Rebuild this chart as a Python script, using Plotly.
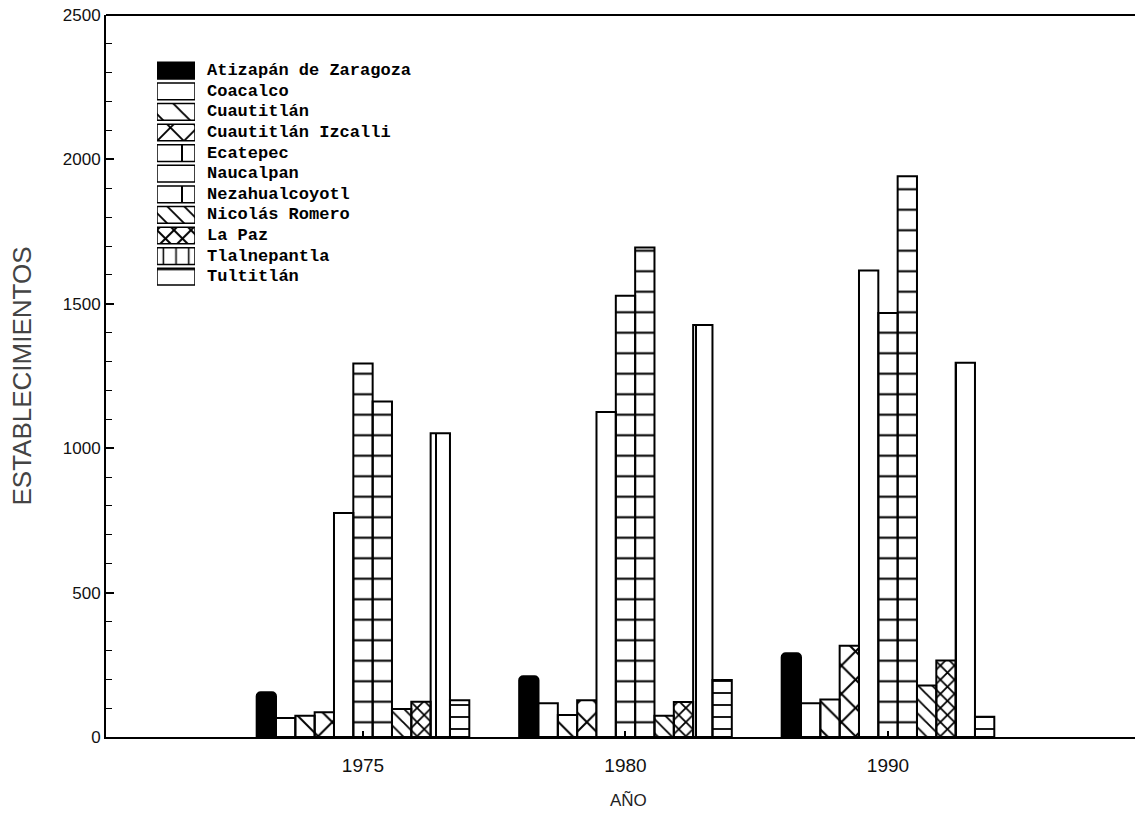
import plotly.graph_objects as go

# ---------------- data ----------------
YEARS = ["1975", "1980", "1990"]
MUNICIPIOS = ["Atizapán de Zaragoza", "Coacalco", "Cuautitlán", "Cuautitlán Izcalli",
              "Ecatepec", "Naucalpan", "Nezahualcoyotl", "Nicolás Romero", "La Paz",
              "Tlalnepantla", "Tultitlán"]
ATIZAPAN = [155, 210, 290]
COACALCO = [66, 117, 117]
CUAUTITLAN = [74, 76, 130]
IZCALLI = [86, 127, 316]
ECATEPEC = [776, 1125, 1615]
NAUCALPAN = [1293, 1528, 1468]
NEZAHUALCOYOTL = [1162, 1695, 1942]
NICOLAS_ROMERO = [97, 74, 178]
LA_PAZ = [122, 121, 265]
TLALNEPANTLA = [1052, 1427, 1296]
TULTITLAN = [127, 197, 70]
VALUES = [ATIZAPAN, COACALCO, CUAUTITLAN, IZCALLI, ECATEPEC, NAUCALPAN,
          NEZAHUALCOYOTL, NICOLAS_ROMERO, LA_PAZ, TLALNEPANTLA, TULTITLAN]
Y_TICKS = [0, 500, 1000, 1500, 2000, 2500]

# ---------------- styles ----------------
FILL = ["black"] + ["white"] * 10
SHAPE = ["", "", "\\", "x", "", "-", "-", "\\", "x", "|", "-"]
PSIZE = [8, 8, 20, 20, 8, 20.5, 20.5, 10, 10, 20, 12]
PSOL = [0.1, 0.1, 0.1, 0.19, 0.1, 0.1, 0.1, 0.18, 0.33, 0.1, 0.15]

LEG_SHAPE = ["", "", "\\", "x", "|", "", "|", "\\", "x", "|", "-"]
LEG_SIZE = [8, 8, 19, 19, 50, 8, 50, 12, 12, 12.7, 22]
LEG_SOL = [0.1, 0.1, 0.1, 0.19, 0.04, 0.1, 0.04, 0.15, 0.3, 0.12, 0.08]

W, H = 1135, 819
ML, MR, MT, MB = 106, 0, 15, 819 - 737
PW, PH = W - ML - MR, H - MT - MB


def px_x(p):  # screen x -> paper
    return (p - ML) / PW


def px_y(p):  # screen y -> paper
    return (H - MB - p) / PH


fig = go.Figure()
for i, (name, vals) in enumerate(zip(MUNICIPIOS, VALUES)):
    fig.add_trace(go.Bar(
        x=YEARS, y=vals, name=name, showlegend=False,
        marker=dict(
            color=FILL[i],
            line=dict(color="black", width=2),
            cornerradius=4 if i == 0 else 0,
            pattern=dict(shape=SHAPE[i], size=PSIZE[i], solidity=PSOL[i],
                         fgcolor="black", fillmode="replace"),
        ),
        xaxis="x", yaxis="y",
    ))

# custom legend: pattern swatches drawn as small bars on hidden axes
for i, name in enumerate(MUNICIPIOS):
    fig.add_trace(go.Bar(
        y=[name], x=[1], orientation="h", showlegend=False, offsetgroup="leg",
        marker=dict(
            color=FILL[i],
            line=dict(color="black", width=1.5),
            pattern=dict(shape=LEG_SHAPE[i], size=LEG_SIZE[i], solidity=LEG_SOL[i],
                         fgcolor="black", fillmode="replace"),
        ),
        xaxis="x2", yaxis="y2", hoverinfo="skip",
    ))

annotations = []
for name in MUNICIPIOS:
    annotations.append(dict(
        x=px_x(205), xref="paper", y=name, yref="y2", text=name,
        showarrow=False, xanchor="left", yanchor="middle",
        font=dict(family="Liberation Mono", size=17, color="black", weight="bold"),
    ))
# x-axis title
annotations.append(dict(
    x=px_x(628), xref="paper", y=px_y(800), yref="paper", text="AÑO",
    showarrow=False, xanchor="center", yanchor="middle",
    font=dict(family="Liberation Sans", size=17, color="#222"),
))

fig.update_layout(
    width=W, height=H,
    margin=dict(l=ML, r=MR, t=MT, b=MB, autoexpand=False),
    paper_bgcolor="white", plot_bgcolor="white",
    barmode="group", bargap=0.19, bargroupgap=0,
    font=dict(family="Liberation Sans", color="#111"),
    xaxis=dict(
        type="category", range=[-0.979, 2.941],
        showline=True, linecolor="black", linewidth=2,
        ticks="inside", ticklen=6, tickwidth=2, tickcolor="black",
        tickfont=dict(size=19, color="#111"), ticklabelstandoff=10,
        showgrid=False, zeroline=False,
        automargin=False,
    ),
    yaxis=dict(
        range=[0, 2500], tickvals=Y_TICKS,
        showline=True, linecolor="black", linewidth=2,
        ticks="inside", ticklen=8, tickwidth=1.5, tickcolor="black",
        minor=dict(dtick=100, ticks="inside", ticklen=6, tickwidth=1.2, tickcolor="black"),
        tickfont=dict(size=17, color="#111"),
        showgrid=False, zeroline=False,
        title=dict(text="ESTABLECIMIENTOS", font=dict(size=26, color="#444"), standoff=24),
        automargin=False,
    ),
    xaxis2=dict(domain=[px_x(157), px_x(195)], range=[0, 1], visible=False,
                anchor="y2", fixedrange=True),
    yaxis2=dict(domain=[px_y(287), px_y(60.4)], type="category",
                range=[10.5, -0.5], visible=False, anchor="x2", fixedrange=True),
    shapes=[dict(type="line", xref="paper", yref="paper", x0=0, x1=1, y0=1, y1=1,
                 line=dict(color="black", width=2))],
    annotations=annotations,
)

fig.write_html("out.html", config={"displayModeBar": False},
               post_script="document.body.style.margin='0px';")
